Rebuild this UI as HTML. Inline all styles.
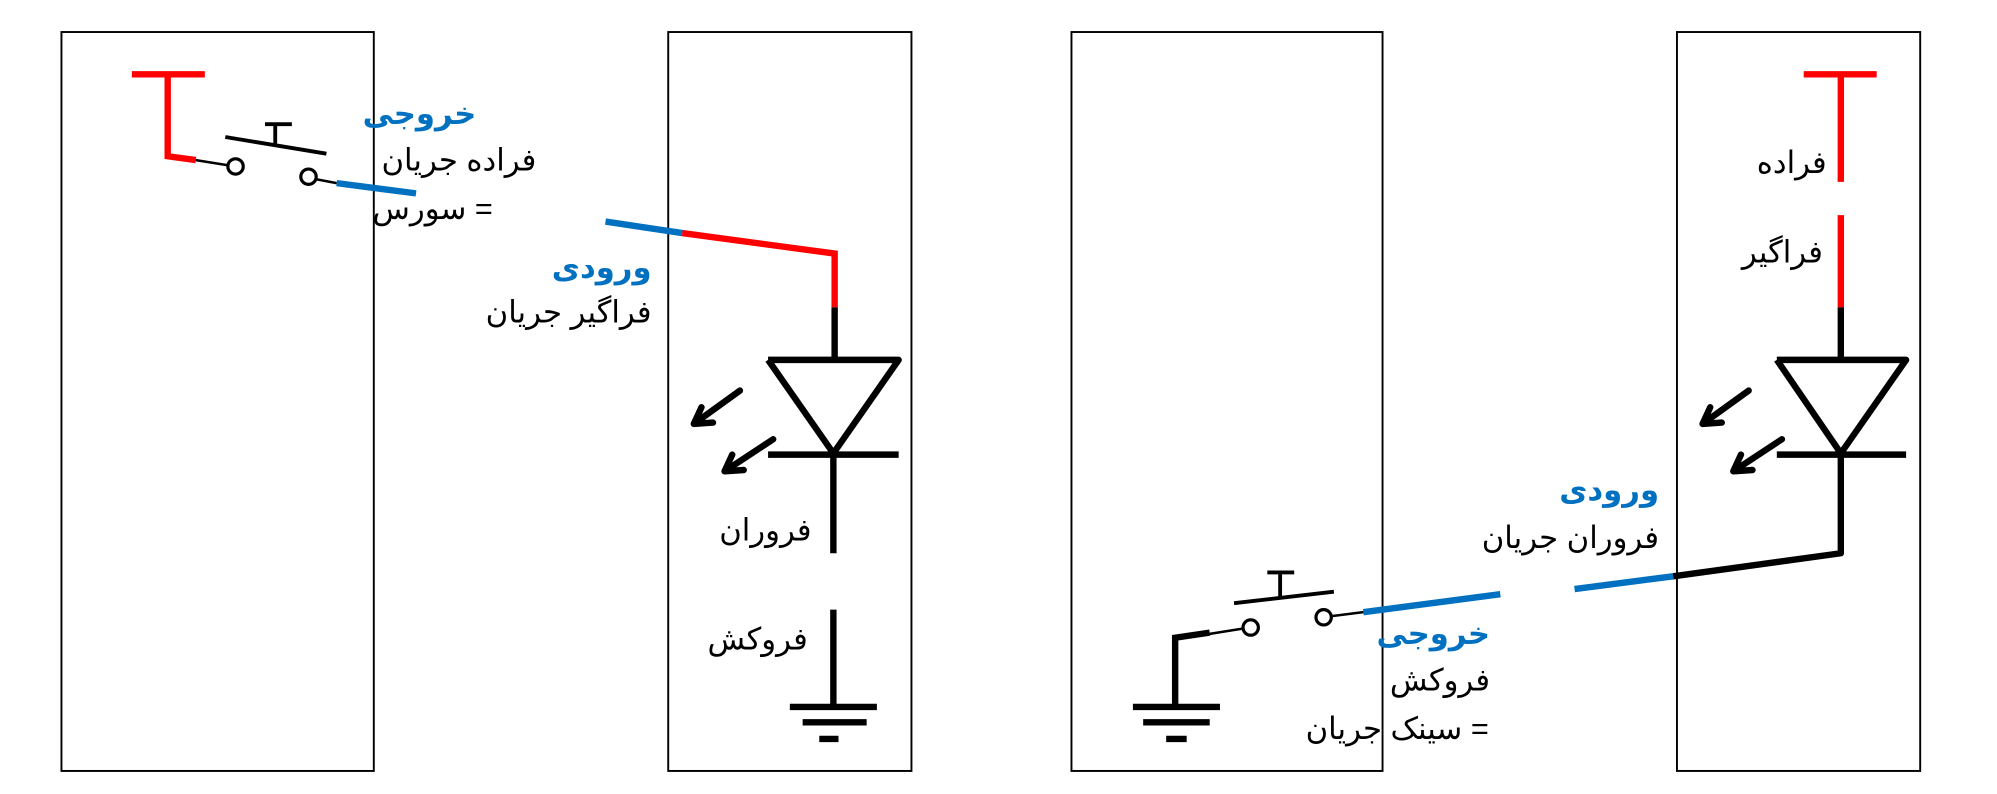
<!DOCTYPE html>
<html><head><meta charset="utf-8"><style>
html,body{margin:0;padding:0;background:#fff;}
svg{display:block;}
text{font-family:"Liberation Sans","DejaVu Sans","Noto Sans CJK SC",sans-serif;font-size:24px;}
.b{fill:#0070c0;font-weight:bold;}
.k{fill:#000;}
</style></head><body>
<svg width="1997" height="794" viewBox="0 0 1560 620" preserveAspectRatio="none" xmlns="http://www.w3.org/2000/svg">
<g fill="none" stroke="#000" stroke-width="1.5">
<rect x="48" y="25" width="244" height="577"/>
<rect x="522" y="25" width="190" height="577"/>
<rect x="837" y="25" width="243" height="577"/>
<rect x="1310" y="25" width="190" height="577"/>
</g>
<g fill="none" stroke-linecap="butt">
<path d="M103 58H160M131 58V122L153 125" stroke="#f00" stroke-width="5"/>
<path d="M153 125L178 129M247 140L263 143" stroke="#000" stroke-width="2"/>
<circle cx="184" cy="130" r="6" stroke="#000" stroke-width="2.5"/>
<circle cx="241" cy="138" r="6" stroke="#000" stroke-width="2.5"/>
<path d="M176 107L255 120M215 98V112M207 97H228" stroke="#000" stroke-width="3"/>
<path d="M263 143L325 151" stroke="#0070c0" stroke-width="5"/>
<path d="M473 173L533 182" stroke="#0070c0" stroke-width="5"/>
<path d="M533 182L652 198V240" stroke="#f00" stroke-width="5"/>
<path d="M652 240V281M600 281H702L651 354L600 281M600 355H702M651 355V432M651 476V552" stroke="#000" stroke-width="5" stroke-linejoin="round"/>
<path d="M617 552H685M627 564H677M640 577H655" stroke="#000" stroke-width="5"/>
<path d="M578 305L542 331M542 331L548 318M542 331L557 330M604 343L566 368M566 368L572 355M566 368L581 367" stroke="#000" stroke-width="5" stroke-linecap="round"/>
</g>
<text class="b" x="372" y="97" text-anchor="end">خروجی</text>
<text class="k" x="419" y="133" text-anchor="end">فراده جریان</text>
<text class="k" x="385" y="171" text-anchor="end">سورس =</text>
<text class="b" x="509" y="217" text-anchor="end">ورودی</text>
<text class="k" x="509" y="252" text-anchor="end">فراگیر جریان</text>
<text class="k" x="634" y="422" text-anchor="end">فروران</text>
<text class="k" x="631" y="507" text-anchor="end">فروکش</text>
<g fill="none">
<path d="M1409 58H1466M1438 58V142M1438 168V240" stroke="#f00" stroke-width="5"/>
<path d="M1438 240V281M1388 281H1489L1438 354L1388 281M1388 355H1489M1438 355V432L1307 450" stroke="#000" stroke-width="5" stroke-linejoin="round"/>
<path d="M1366 305L1330 331M1330 331L1336 318M1330 331L1345 330M1392 343L1354 368M1354 368L1360 355M1354 368L1369 367" stroke="#000" stroke-width="5" stroke-linecap="round"/>
<path d="M1307 450L1230 460M1172 464L1065 478" stroke="#0070c0" stroke-width="5"/>
<path d="M1065 478L1041 481M970 491L945 495" stroke="#000" stroke-width="2"/>
<circle cx="1034" cy="482" r="6" stroke="#000" stroke-width="2.5"/>
<circle cx="977" cy="490" r="6" stroke="#000" stroke-width="2.5"/>
<path d="M964 471L1042 462M1000 448V466M990 447H1011" stroke="#000" stroke-width="3"/>
<path d="M945 494L918 498V552" stroke="#000" stroke-width="5"/>
<path d="M885 552H953M893 564H945M911 577H927" stroke="#000" stroke-width="5"/>
</g>
<text class="k" x="1427" y="135" text-anchor="end">فراده</text>
<text class="k" x="1424" y="205" text-anchor="end">فراگیر</text>
<text class="b" x="1296" y="391" text-anchor="end">ورودی</text>
<text class="k" x="1296" y="428" text-anchor="end">فروران جریان</text>
<text class="b" x="1164" y="503" text-anchor="end">خروجی</text>
<text class="k" x="1164" y="539" text-anchor="end">فروکش</text>
<text class="k" x="1163" y="577" text-anchor="end">سینک جریان =</text>
</svg>
</body></html>
